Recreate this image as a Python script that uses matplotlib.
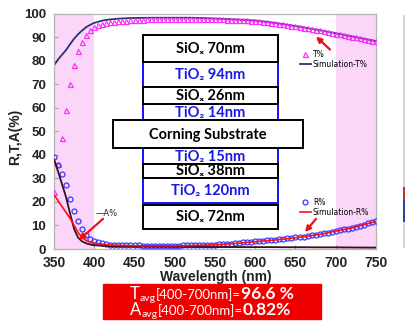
import matplotlib
matplotlib.use('Agg')
import matplotlib.pyplot as plt
from matplotlib.patches import Rectangle
import numpy as np

W, H = 406, 324   # tamaño de la imagen en px

# --- datos medidos (cada 5 nm) ---
wl_meas = np.arange(350, 755, 5)
T_meas = [24, 36, 47, 59, 70, 78, 84, 88, 91, 93,
          94.3, 95.1, 95.7, 96.1, 96.4, 96.6, 96.8, 96.9, 97.0, 97.1,
          97.2, 97.3, 97.4, 97.5, 97.5, 97.6, 97.6, 97.7, 97.7, 97.8,
          97.8, 97.8, 97.8, 97.8, 97.8, 97.8, 97.8, 97.7, 97.7, 97.6,
          97.6, 97.5, 97.5, 97.4, 97.4, 97.3, 97.3, 97.2, 97.1, 97.0,
          96.9, 96.7, 96.5, 96.3, 96.1, 95.9, 95.6, 95.4, 95.1, 94.8,
          94.5, 94.3, 94.0, 93.7, 93.4, 93.1, 92.8, 92.5, 92.2, 91.9,
          91.5, 91.2, 90.9, 90.6, 90.2, 89.9, 89.5, 89.2, 88.8, 88.5,
          88.2]
R_meas = [39, 35.7, 31.8, 27.2, 21.2, 16.1, 11.9, 8.5, 5.9, 4.2,
          3.4, 2.8, 2.4, 2.1, 1.9, 1.8, 1.7, 1.6, 1.6, 1.5,
          1.5, 1.5, 1.4, 1.4, 1.4, 1.4, 1.4, 1.4, 1.4, 1.4,
          1.4, 1.4, 1.5, 1.5, 1.5, 1.6, 1.6, 1.7, 1.7, 1.8,
          1.9, 2.0, 2.1, 2.2, 2.3, 2.5, 2.6, 2.8, 2.9, 3.1,
          3.2, 3.4, 3.5, 3.7, 3.8, 4.0, 4.2, 4.3, 4.5, 4.7,
          4.9, 5.1, 5.3, 5.5, 5.8, 6.0, 6.3, 6.6, 7.0, 7.3,
          7.7, 8.0, 8.4, 8.7, 9.1, 9.5, 9.9, 10.4, 10.9, 11.3,
          11.8]

# --- simulación y absorción ---
wl_sim = [350, 355, 360, 365, 370, 375, 380, 385, 390, 395,
          400, 410, 420, 430, 440, 450, 470,
          500, 520, 540, 560, 580, 600,
          620, 640, 660, 680, 700, 720, 740, 750]
T_sim = [78, 80.5, 82.5, 84.5, 87, 89.3, 91.2, 92.8, 94.2, 95.2,
         96, 97, 97.5, 97.8, 98, 98.1, 98.2,
         98.2, 98.2, 98.0, 97.7, 97.4, 97.0,
         96.2, 95.2, 94.1, 92.9, 91.6, 90.3, 88.9, 88.3]
R_sim = [23, 20.5, 18, 15.5, 13, 10, 7, 4.8, 3.6, 2.9,
         2.5, 2.0, 1.7, 1.55, 1.45, 1.4, 1.35,
         1.35, 1.45, 1.65, 2.0, 2.5, 3.1,
         3.7, 4.4, 5.2, 6.2, 7.6, 9.0, 10.8, 11.7]
A_meas = [38, 33, 27.5, 22, 15, 8.5, 4.8, 3.2, 2.4, 1.9,
          1.6, 1.35, 1.2, 1.1, 1.05, 1.0, 0.95,
          0.9, 0.9, 0.85, 0.85, 0.8, 0.8,
          0.8, 0.75, 0.75, 0.7, 0.7, 0.65, 0.6, 0.6]

RANGO = (400, 700)   # rango del promedio
T_AVG = '96.6 %'
A_AVG = '0.82%'

# --- capas de la estructura ---
capas = ['SiOₓ 70nm', 'TiO₂ 94nm', 'SiOₓ 26nm', 'TiO₂ 14nm', 'Corning Substrate',
         'TiO₂ 15nm', 'SiOₓ 38nm', 'TiO₂ 120nm', 'SiOₓ 72nm']
capa_top = [35, 62, 87, 104, 120, 148, 164, 178, 205]
capa_bot = [62, 87, 104, 120, 148, 164, 178, 203, 229]

TICKFONT = dict(family='Liberation Sans', weight='bold', size=10, color='#222222')
BOXFONT = ['Lato', 'DejaVu Sans']


def px(x, y):
    """ Pixel de la imagen -> coordenadas de figura. """
    return (x / W, 1 - y / H)


fig = plt.figure(figsize=(W / 100, H / 100), dpi=100)
ax = fig.add_axes([54 / W, 1 - 249 / H, (376 - 54) / W, (249 - 13.5) / H])

ax.axvspan(350, RANGO[0], color='#fcd6f8', zorder=0, lw=0)
ax.axvspan(RANGO[1], 750, color='#fcd6f8', zorder=0, lw=0)

t_line, = ax.plot(wl_sim, T_sim, color='#2e3072', lw=1.3, zorder=2)
t_pts, = ax.plot(wl_meas, T_meas, ls='none', marker='^', ms=3.6, mfc='none',
                 mec='#ff30ff', mew=0.9, zorder=3)
r_pts, = ax.plot(wl_meas, R_meas, ls='none', marker='o', ms=3.6, mfc='none',
                 mec='#3a3aff', mew=0.9, zorder=3)
a_line, = ax.plot(wl_sim, A_meas, color='#35101f', lw=1.3, zorder=4)
r_line, = ax.plot(wl_sim, R_sim, color='#ff1010', lw=1.2, zorder=5)

ax.set_xlim(350, 750)
ax.set_ylim(0, 100)
ax.set_xticks(range(350, 751, 50))
ax.set_yticks(range(0, 101, 10))
ax.tick_params(direction='in', length=3, color='#a0a0a0')
ax.tick_params(axis='x', pad=5)
ax.tick_params(axis='y', pad=5.5)
for lab in ax.get_xticklabels() + ax.get_yticklabels():
    lab.set(**TICKFONT)
for lab in ax.get_yticklabels():
    lab.set_fontsize(9.5)
for s in ax.spines.values():
    s.set_color('#b4b4b4')
    s.set_linewidth(0.9)

fig.text(*px(216, 277), 'Wavelength (nm)', ha='center', va='center', **TICKFONT)
fig.text(*px(15, 137), 'R,T,A(%)', ha='center', va='center', rotation=90, **TICKFONT)

# leyendas
leg1 = ax.legend([t_pts, t_line], ['T%', 'Simulation-T%'], loc='upper left',
                 bbox_to_anchor=px(300, 50), bbox_transform=fig.transFigure,
                 frameon=False, fontsize=5.5, handlelength=1.4, handletextpad=0.3,
                 labelspacing=0.1, borderpad=0, borderaxespad=0, numpoints=1)
ax.add_artist(leg1)
ax.legend([r_pts, r_line], ['R%', 'Simulation-R%'], loc='upper left',
          bbox_to_anchor=px(300, 198), bbox_transform=fig.transFigure,
          frameon=False, fontsize=5.5, handlelength=1.4, handletextpad=0.3,
          labelspacing=0.1, borderpad=0, borderaxespad=0, numpoints=1)
fig.text(*px(96, 213), '—A%', ha='left', va='center', fontsize=6, color='#222222')

flecha = dict(arrowstyle='-|>', color='#ee1111', lw=1.6, mutation_scale=8, shrinkA=0, shrinkB=0)
ax.annotate('', xy=(675.5, 90.2), xytext=(692.9, 84.7), arrowprops=flecha, zorder=6)
ax.annotate('', xy=(661.8, 7.2), xytext=(675.5, 12.8), arrowprops=flecha, zorder=6)
ax.annotate('', xy=(381, 3.8), xytext=(410.9, 12.8), arrowprops=flecha, zorder=6)

# estructura de capas
for nombre, top, bot in zip(capas, capa_top, capa_bot):
    if nombre.startswith('Corning'):
        x0, x1 = 113, 303
    else:
        x0, x1 = 143, 278
    azul = nombre.startswith('TiO')
    borde = '#1010ff' if azul else '#000000'
    fig.add_artist(Rectangle(px(x0, bot), (x1 - x0) / W, (bot - top) / H,
                             transform=fig.transFigure, fc='white', ec=borde,
                             lw=1.4, zorder=8 if azul else 9))
    fig.text(*px((x0 + x1) / 2, (top + bot) / 2 + 0.5), nombre, ha='center', va='center',
             family=BOXFONT, weight='bold', fontsize=10.5,
             color='#1818e8' if azul else '#000000', zorder=10)

# recuadro de promedios
fig.add_artist(Rectangle(px(103, 319), 218 / W, 35 / H, transform=fig.transFigure,
                         color='#f20000', zorder=1))
renderer = fig.canvas.get_renderer()


def texto_corrido(partes, x, y):
    """ Escribe varios trozos de texto uno después del otro. """
    for s, size, weight, dy in partes:
        t = fig.text(*px(x, y + dy), s, fontsize=size, weight=weight, color='white',
                     family=BOXFONT, va='baseline', ha='left', zorder=3)
        x += t.get_window_extent(renderer).width


rango = '[{}-{}nm]='.format(*RANGO)
texto_corrido([('T', 12, 'normal', 0), ('avg', 7.5, 'normal', 2), (rango, 9.5, 'normal', 0),
               (T_AVG, 12.5, 'bold', 0)], 130, 299)
texto_corrido([('A', 12, 'normal', 0), ('avg', 7.5, 'normal', 2), (rango, 9.5, 'normal', 0),
               (A_AVG, 12.5, 'bold', 0)], 130, 315)

# franja gris del borde derecho
fig.add_artist(Rectangle(px(403, 248), 3 / W, 233 / H, transform=fig.transFigure,
                         color='#d3dad3', lw=0))
fig.add_artist(Rectangle(px(403, 200), 3 / W, 13 / H, transform=fig.transFigure,
                         color='#c03030', lw=0))
fig.add_artist(Rectangle(px(403, 222), 3 / W, 22 / H, transform=fig.transFigure,
                         color='#3040a0', lw=0))

fig.savefig('out.png', dpi=100)
